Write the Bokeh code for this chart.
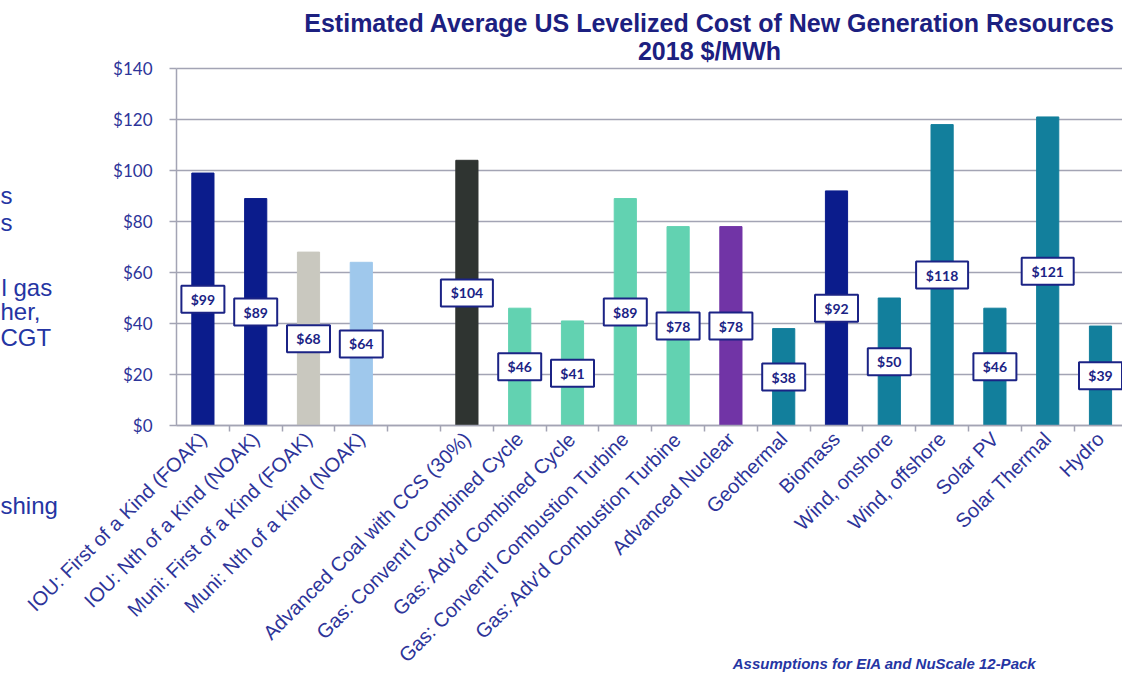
import numpy as np
from bokeh.plotting import figure
from bokeh.models import ColumnDataSource, Range1d, FixedTicker, Label, NumeralTickFormatter
from bokeh.embed import file_html
from bokeh.resources import INLINE
from bokeh.core.properties import value

# ---------------- data ----------------
categories = [
    "IOU: First of a Kind (FOAK)",
    "IOU: Nth of a Kind (NOAK)",
    "Muni: First of a Kind (FOAK)",
    "Muni: Nth of a Kind (NOAK)",
    "",
    "Advanced Coal with CCS (30%)",
    "Gas: Convent'l Combined Cycle",
    "Gas: Adv'd Combined Cycle",
    "Gas: Convent'l Combustion Turbine",
    "Gas: Adv'd Combustion Turbine",
    "Advanced Nuclear",
    "Geothermal",
    "Biomass",
    "Wind, onshore",
    "Wind, offshore",
    "Solar PV",
    "Solar Thermal",
    "Hydro",
]
costs = [99, 89, 68, 64, None, 104, 46, 41, 89, 78, 78, 38, 92, 50, 118, 46, 121, 39]
bar_colors = [
    "#0b1c8c", "#0b1c8c", "#c9c8bf", "#9fc8ec", None,
    "#2f3431", "#62d2b1", "#62d2b1", "#62d2b1", "#62d2b1",
    "#7134a6", "#127f9c", "#0b1c8c", "#127f9c", "#127f9c",
    "#127f9c", "#127f9c", "#127f9c",
]
y_ticks = [0, 20, 40, 60, 80, 100, 120, 140]

title_line1 = "Estimated Average US Levelized Cost of New Generation Resources"
title_line2 = "2018 $/MWh"
side_fragments = ["s", "s", "l gas", "her,", "CGT", "shing"]
footnote = "Assumptions for EIA and NuScale 12-Pack"

# ---------------- layout constants (picture pixels) ----------------
NAVY = "#1b2385"
TICK_NAVY = "#2d3499"
GRID = "#a3a4b4"
W, H = 1122, 674
AX_L, AX_T, AX_B = 176, 68, 425      # y axis x-pos, $140 line, $0 line
SLOT = 52.8                           # px per category slot
PX_PER_Y = (AX_B - AX_T) / 140.0


def px_x(px):
    return -0.5 + (px - AX_L) / SLOT


def px_y(py):
    return (AX_B - py) / PX_PER_Y


idx = [i for i, v in enumerate(costs) if v is not None]
src = ColumnDataSource(dict(
    x=idx,
    top=[costs[i] for i in idx],
    mid=[costs[i] / 2 for i in idx],
    color=[bar_colors[i] for i in idx],
    lab=["$" + str(costs[i]) for i in idx],
    bw=[52 if costs[i] >= 100 else 43 for i in idx],
))

x_end = px_x(W)
p = figure(width=W, height=H, output_backend="svg", toolbar_location=None,
           x_range=Range1d(px_x(0), x_end), y_range=Range1d(px_y(H), px_y(0)),
           min_border=0, min_border_left=0, min_border_right=0,
           min_border_top=0, min_border_bottom=0,
           background_fill_color="white", border_fill_color="white")
p.outline_line_color = None

# grid (only across the chart area)
p.xgrid.grid_line_color = None
p.ygrid.grid_line_color = GRID
p.ygrid.grid_line_width = 1.5
p.ygrid.ticker = FixedTicker(ticks=y_ticks)
p.ygrid.cross_bounds = (-0.5, x_end)

p.vbar(x="x", top="top", width=0.42, color="color", source=src)

p.rect(x="x", y="mid", width="bw", height=27, width_units="screen", height_units="screen",
       fill_color="white", line_color=NAVY, line_width=2, source=src)
p.text(x="x", y="mid", text="lab", text_align="center", text_baseline="middle",
       text_font=value("Lato"), text_font_style="bold", text_font_size="14px",
       text_color=NAVY, source=src)

# y axis, fixed at the left edge of the first slot
p.yaxis.fixed_location = -0.5
p.yaxis.bounds = (0, 140)
p.yaxis.ticker = FixedTicker(ticks=y_ticks)
p.yaxis.formatter = NumeralTickFormatter(format="$0")
p.yaxis.axis_line_color = GRID
p.yaxis.axis_line_width = 1.5
p.yaxis.major_tick_line_color = GRID
p.yaxis.major_tick_line_width = 1.5
p.yaxis.major_tick_out = 7
p.yaxis.major_tick_in = 0
p.yaxis.minor_tick_line_color = None
p.yaxis.major_label_standoff = 17
p.yaxis.major_label_text_font = "Lato"
p.yaxis.major_label_text_font_size = "17px"
p.yaxis.major_label_text_color = TICK_NAVY

# x axis, fixed at $0
centers = list(range(len(categories)))
bounds = [i + 0.5 for i in range(len(categories) - 1)]
p.xaxis.fixed_location = 0
p.xaxis.bounds = (-0.5, x_end)
p.xaxis.ticker = FixedTicker(ticks=centers, minor_ticks=bounds)
p.xaxis.major_label_overrides = {i: c for i, c in enumerate(categories)}
p.xaxis.major_label_orientation = np.pi / 4
p.xaxis.axis_line_color = GRID
p.xaxis.axis_line_width = 1.5
p.xaxis.major_tick_line_color = None
p.xaxis.major_tick_out = 6
p.xaxis.minor_tick_line_color = GRID
p.xaxis.minor_tick_line_width = 1.5
p.xaxis.minor_tick_out = 6
p.xaxis.minor_tick_in = 0
p.xaxis.major_label_standoff = 4
p.xaxis.major_label_text_font = "Liberation Sans"
p.xaxis.major_label_text_font_size = "20px"
p.xaxis.major_label_text_color = TICK_NAVY

# title
for txt, py in [(title_line1, 22), (title_line2, 50)]:
    p.add_layout(Label(x=px_x(709), y=px_y(py), text=txt,
                       text_align="center", text_baseline="middle",
                       text_font="Liberation Sans", text_font_style="bold",
                       text_font_size="25px", text_color="#1c2080"))

# cropped slide text on the left
for txt, px, py in zip(side_fragments, [0, 0, 1, 0, 0, 0], [195, 222, 287, 311, 337, 505]):
    p.add_layout(Label(x=px_x(px), y=px_y(py), text=txt,
                       text_align="left", text_baseline="alphabetic",
                       text_font="Liberation Sans", text_font_size="24px",
                       text_color="#2535a3"))

p.add_layout(Label(x=px_x(884), y=px_y(663), text=footnote,
                   text_align="center", text_baseline="alphabetic",
                   text_font="Liberation Sans", text_font_style="bold italic",
                   text_font_size="15px", text_color="#2535a3"))

open("out.html", "w").write(file_html(p, INLINE))
